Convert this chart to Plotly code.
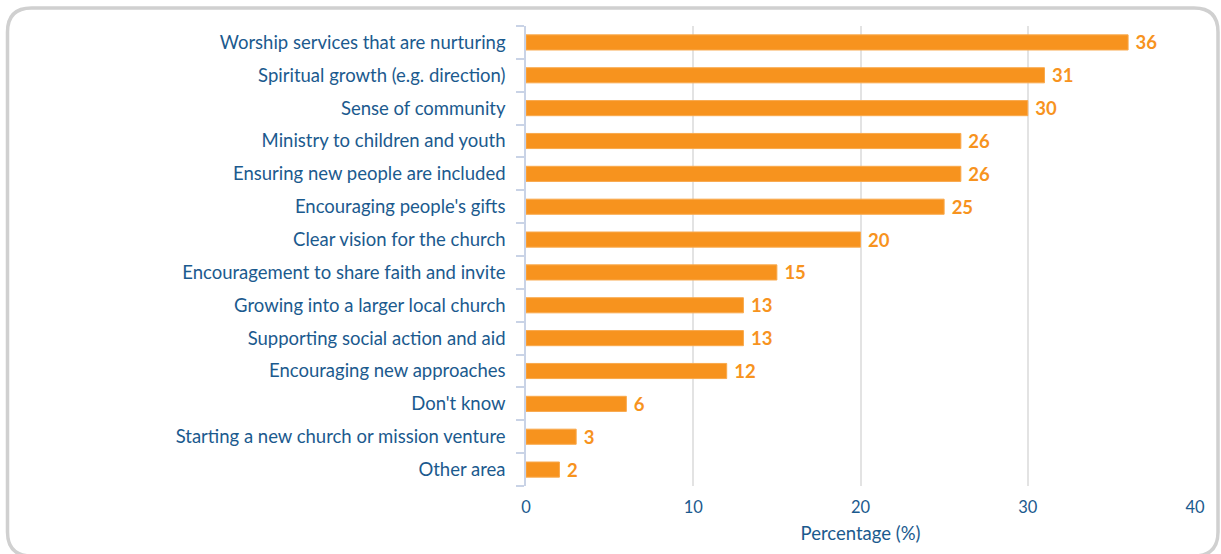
import plotly.graph_objects as go

categories = [
    "Worship services that are nurturing",
    "Spiritual growth (e.g. direction)",
    "Sense of community",
    "Ministry to children and youth",
    "Ensuring new people are included",
    "Encouraging people's gifts",
    "Clear vision for the church",
    "Encouragement to share faith and invite",
    "Growing into a larger local church",
    "Supporting social action and aid",
    "Encouraging new approaches",
    "Don't know",
    "Starting a new church or mission venture",
    "Other area",
]
values = [36, 31, 30, 26, 26, 25, 20, 15, 13, 13, 12, 6, 3, 2]
x_ticks = [0, 10, 20, 30, 40]

W, H = 1221, 554
L, R, T, B = 526, 26, 26, 68
PW, PH = W - L - R, H - T - B

BLUE = "#1b5a8e"
ORANGE = "#f7931e"

fig = go.Figure(go.Bar(
    x=values, y=categories, orientation="h",
    marker=dict(color=ORANGE, line=dict(color="#f9a94c", width=1)),
    width=0.46,
    text=values, texttemplate="\u00a0%{x}", textposition="outside",
    constraintext="none",
    textfont=dict(family="Lato", size=18.5, color=ORANGE, weight="bold"),
    cliponaxis=False,
))


def px(x):
    return (x - L) / PW


def py(y):
    return (H - B - y) / PH


# rounded border around the whole chart
x0, y0, x1, y1, r = 7.5, 8, 1218, 556, 24
path = (
    f"M {px(x0 + r)},{py(y0)} L {px(x1 - r)},{py(y0)} "
    f"Q {px(x1)},{py(y0)} {px(x1)},{py(y0 + r)} "
    f"L {px(x1)},{py(y1 - r)} Q {px(x1)},{py(y1)} {px(x1 - r)},{py(y1)} "
    f"L {px(x0 + r)},{py(y1)} Q {px(x0)},{py(y1)} {px(x0)},{py(y1 - r)} "
    f"L {px(x0)},{py(y0 + r)} Q {px(x0)},{py(y0)} {px(x0 + r)},{py(y0)} Z"
)
fig.add_shape(type="path", path=path, xref="paper", yref="paper",
              line=dict(color="#d0d0d0", width=3.5), layer="below")

fig.update_layout(
    width=W, height=H,
    margin=dict(l=L, r=R, t=T, b=B),
    paper_bgcolor="white", plot_bgcolor="white",
    font=dict(family="Lato", color=BLUE),
    showlegend=False,
    xaxis=dict(
        range=[0, 40], tickvals=x_ticks,
        showgrid=True, gridcolor="#e3e3e3", gridwidth=1.5,
        zeroline=False, showline=False,
        tickfont=dict(size=16.5, color=BLUE),
        ticklabelstandoff=9,
        title=dict(text="Percentage (%)", font=dict(size=18.5, color=BLUE), standoff=11),
        fixedrange=True,
    ),
    yaxis=dict(
        categoryorder="array", categoryarray=categories[::-1],
        showgrid=False, showline=True, linecolor="#c9d3e6", linewidth=1.5,
        ticks="outside", tickson="boundaries", ticklen=8, tickcolor="#c9d3e6",
        tickwidth=1.5,
        tickfont=dict(size=18.5, color=BLUE),
        ticklabelstandoff=15,
        fixedrange=True,
    ),
)

fig.write_html("out.html")
